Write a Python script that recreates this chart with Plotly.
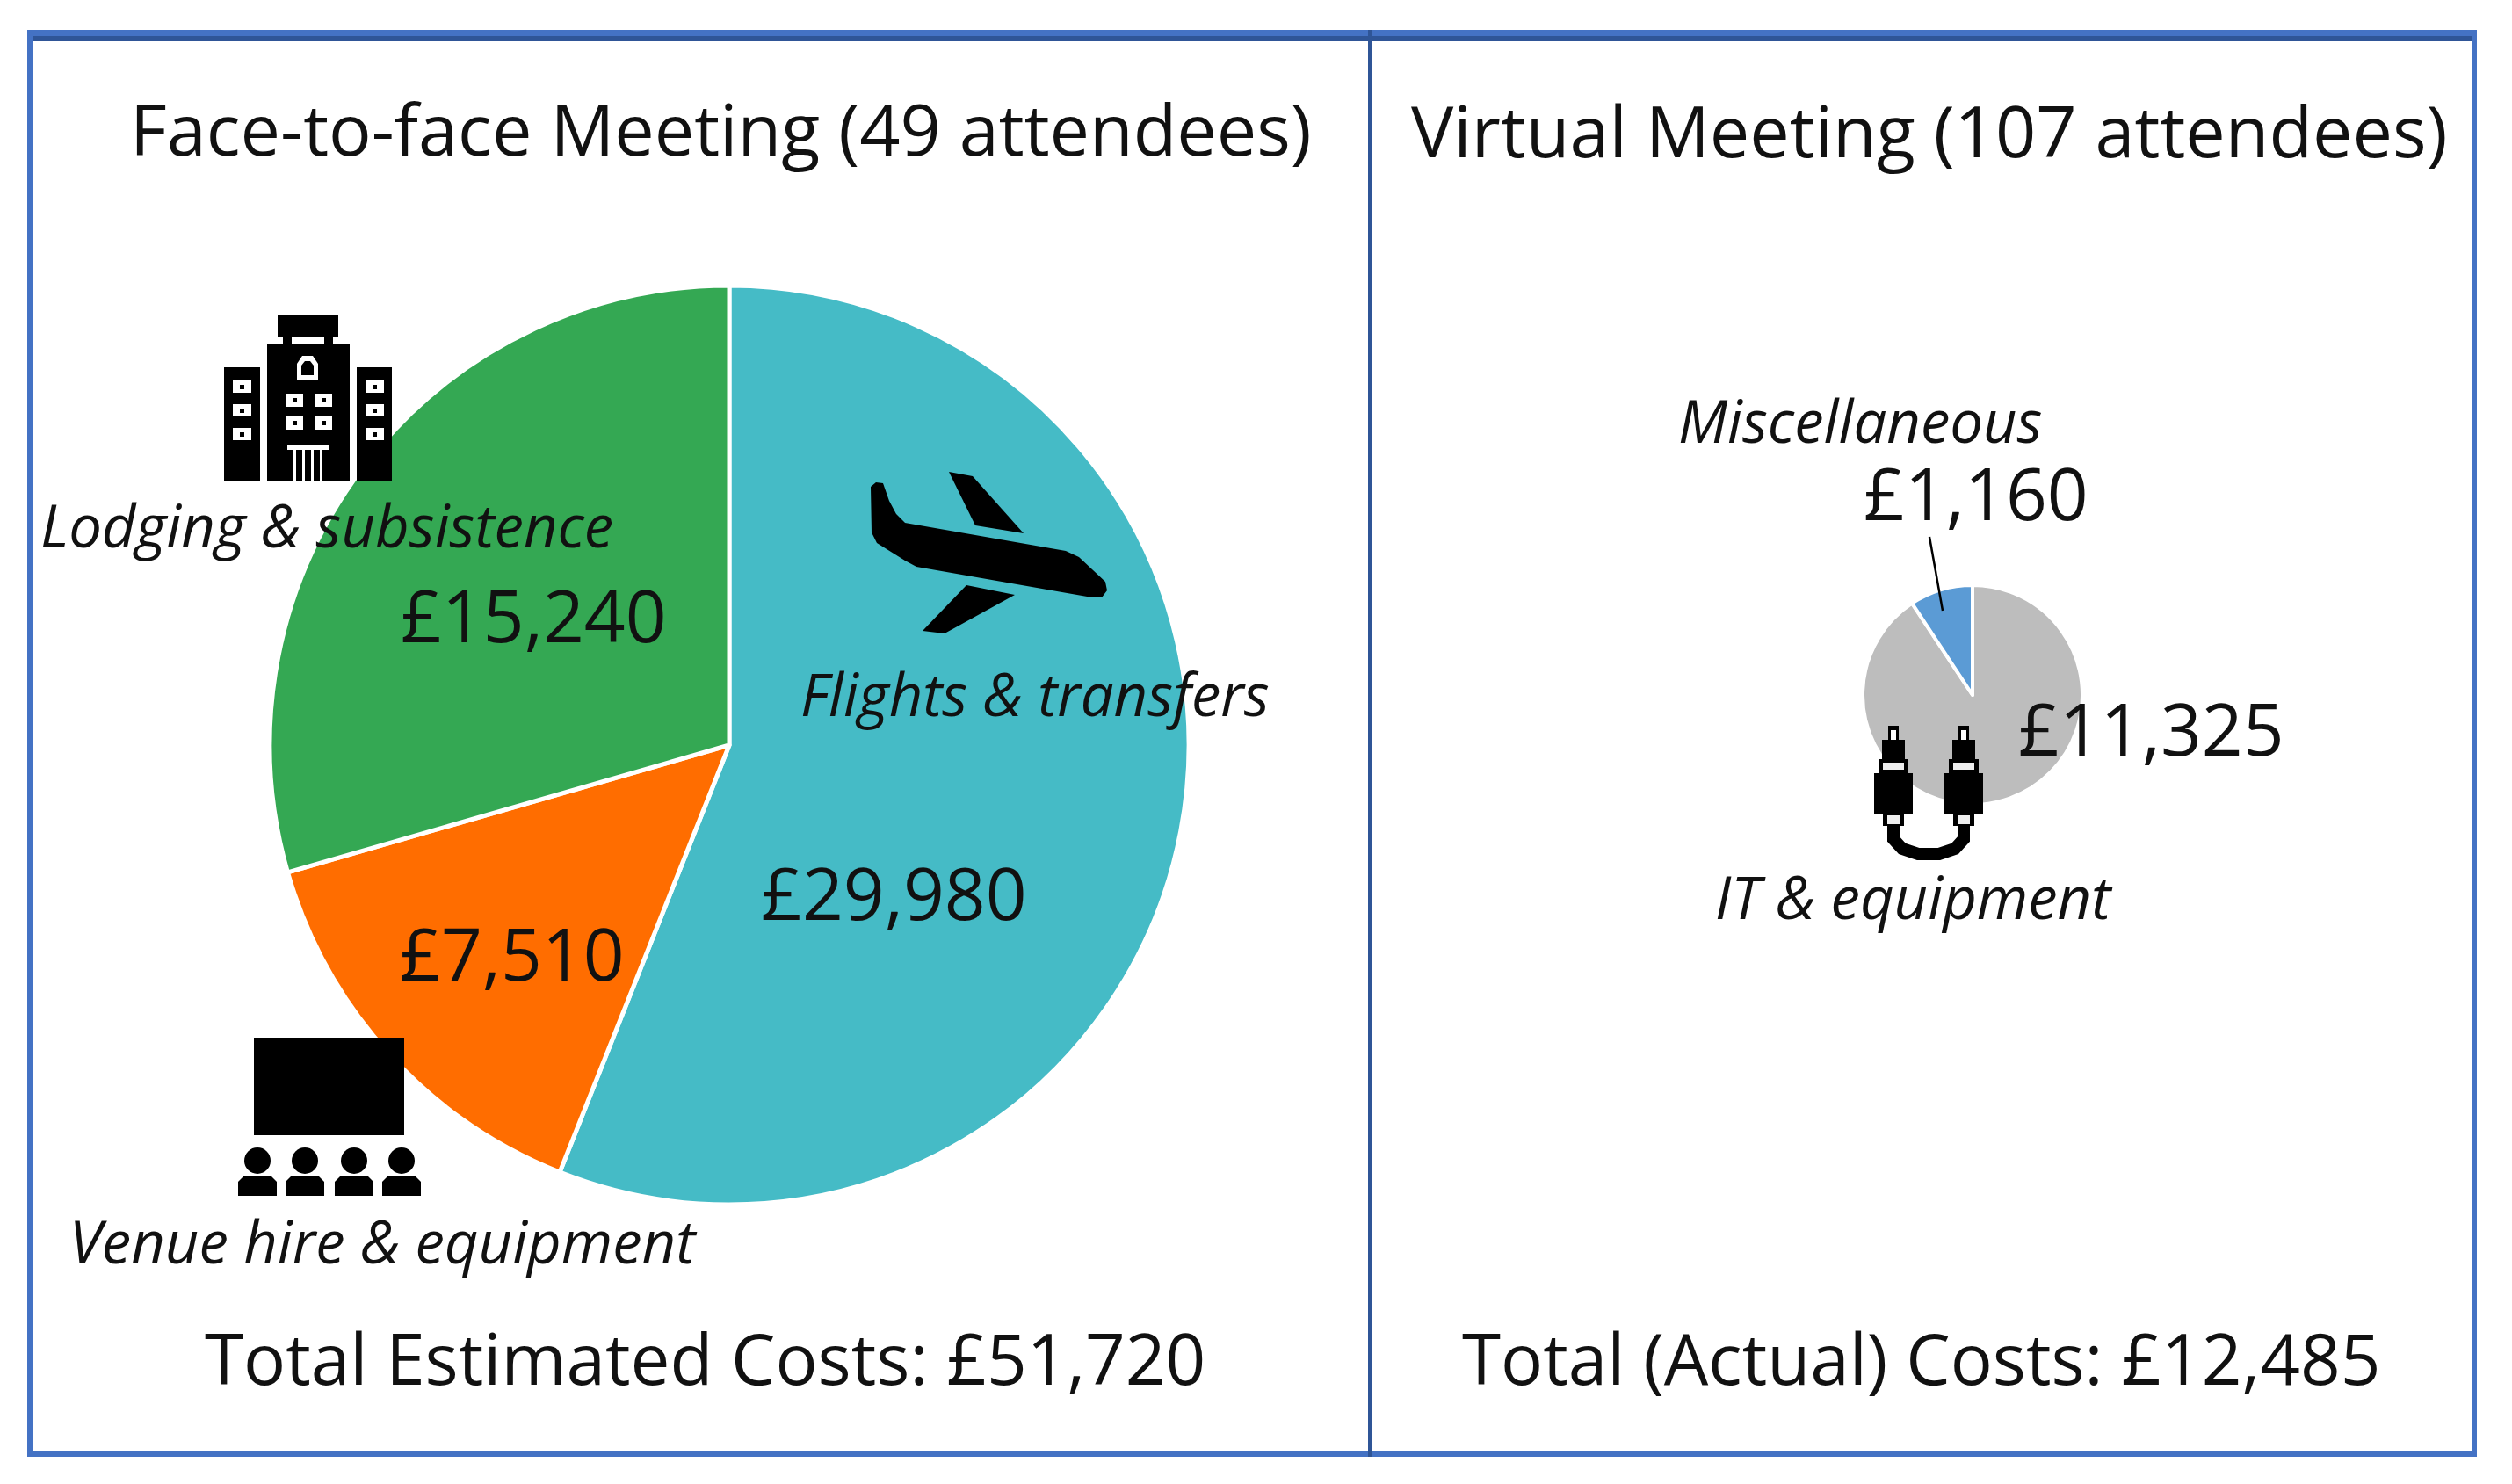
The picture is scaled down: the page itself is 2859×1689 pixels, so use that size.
import plotly.graph_objects as go

W, H = 2859, 1689

# face-to-face meeting
f2f_names = ['Flights & transfers', 'Venue hire & equipment', 'Lodging & subsistence']
# flights slice is drawn smaller than its printed label, it adds up to the printed total that way
f2f_slices = [28970, 7510, 15240]
f2f_labels = [29980, 7510, 15240]
f2f_colors = ['#45BBC6', '#FF6D00', '#34A853']
f2f_total = 51720

# virtual meeting
virt_names = ['IT & equipment', 'Miscellaneous']
virt_costs = [11325, 1160]
virt_colors = ['#BDBDBD', '#5B9BD5']
virt_total = 12485

title_left = 'Face-to-face Meeting (49 attendees)'
title_right = 'Virtual Meeting (107 attendees)'

FONT = 'Open Sans'


def px(x):
    return x / W


def py(y):
    return 1 - y / H


def rect(x0, y0, x1, y1, color='black'):
    return dict(type='rect', xref='paper', yref='paper', x0=px(x0), x1=px(x1), y0=py(y0), y1=py(y1),
                fillcolor=color, line_width=0, layer='above')


def circle(cx, cy, r, color='black'):
    return dict(type='circle', xref='paper', yref='paper', x0=px(cx - r), x1=px(cx + r), y0=py(cy - r), y1=py(cy + r),
                fillcolor=color, line_width=0, layer='above')


def poly(points, color='black'):
    path = 'M ' + ' L '.join(f'{px(x):.5f},{py(y):.5f}' for x, y in points) + ' Z'
    return dict(type='path', xref='paper', yref='paper', path=path, fillcolor=color, line_width=0, layer='above')


def stroke(points, width, color='black'):
    path = 'M ' + ' L '.join(f'{px(x):.5f},{py(y):.5f}' for x, y in points)
    return dict(type='path', xref='paper', yref='paper', path=path, line=dict(color=color, width=width), layer='above')


def pie_domain(cx, cy, r):
    return dict(x=[px(cx - r), px(cx + r)], y=[py(cy + r), py(cy - r)])


def label(text, x, y, size, italic=False):
    return dict(text=text, xref='paper', yref='paper', x=px(x), y=py(y), xanchor='center', yanchor='middle',
                showarrow=False, font=dict(family=FONT, size=size, color='#111111', style='italic' if italic else 'normal'))


def money(v):
    return f'£{v:,}'


def hotel_icon():
    s = [rect(316, 358, 385, 383), rect(322, 383, 332, 392), rect(369, 383, 379, 392),
         rect(304, 391, 398, 547), rect(255, 418, 296, 547), rect(406, 418, 446, 547)]
    for x0 in (265, 416):
        for y0 in (433, 460, 487):
            s.append(rect(x0, y0, x0 + 21, y0 + 14, 'white'))
            s.append(rect(x0 + 8, y0 + 5, x0 + 13, y0 + 10))
    for x0 in (325, 358):
        for y0 in (448, 474):
            s.append(rect(x0, y0, x0 + 20, y0 + 15, 'white'))
            s.append(rect(x0 + 8, y0 + 5, x0 + 13, y0 + 10))
    s.append(poly([(338, 432), (338, 414), (344, 405), (356, 405), (362, 414), (362, 432)], 'white'))
    s.append(poly([(343, 427), (343, 416), (347, 411), (353, 411), (357, 416), (357, 427)]))
    s.append(rect(327, 507, 375, 512, 'white'))
    for x0 in (334, 344, 354, 364):
        s.append(rect(x0, 512, x0 + 3, 547, 'white'))
    return s


def plane_icon():
    body = [(991, 554), (997, 549), (1005, 550), (1012, 570), (1020, 585), (1030, 595), (1213, 627), (1228, 634),
            (1258, 662), (1260, 672), (1254, 680), (1243, 680), (1043, 645), (1030, 638), (998, 618), (992, 606)]
    upper = [(1080, 537), (1107, 542), (1165, 607), (1110, 598)]
    lower = [(1100, 666), (1155, 677), (1075, 721), (1050, 718)]
    return [poly(body), poly(upper), poly(lower)]


def screen_icon():
    s = [rect(289, 1181, 460, 1292)]
    for cx in (293, 347, 403, 457):
        s.append(circle(cx, 1321, 15))
        s.append(poly([(cx - 22, 1361), (cx - 22, 1345), (cx - 16, 1339), (cx + 16, 1339), (cx + 22, 1345), (cx + 22, 1361)]))
    return s


def cable_icon():
    s = [stroke([(2155, 940), (2155, 955), (2165, 966), (2183, 972), (2207, 972), (2225, 966), (2235, 955), (2235, 940)], 14)]
    for cx in (2155, 2235):
        s += [rect(cx - 6, 826, cx + 6, 842), rect(cx - 3, 831, cx + 3, 842, 'white'), rect(cx - 13, 842, cx + 13, 864),
              rect(cx - 17, 864, cx + 17, 880), rect(cx - 12, 868, cx + 12, 876, '#EEEEEE'), rect(cx - 22, 880, cx + 22, 926),
              rect(cx - 12, 926, cx + 12, 940), rect(cx - 7, 928, cx + 7, 938, '#EEEEEE')]
    return s


fig = go.Figure()
fig.add_pie(labels=f2f_names, values=f2f_slices, sort=False, direction='clockwise', rotation=0,
            marker=dict(colors=f2f_colors, line=dict(color='white', width=5)),
            textinfo='none', domain=pie_domain(830, 848, 523))
fig.add_pie(labels=virt_names, values=virt_costs, sort=False, direction='clockwise', rotation=0,
            marker=dict(colors=virt_colors, line=dict(color='white', width=4)),
            textinfo='none', domain=pie_domain(2245, 791, 125))

frame = [rect(31, 34, 2819, 41, '#4472C4'), rect(38, 41, 2813, 47, '#2F5597'),
         rect(31, 34, 38, 1658, '#4472C4'), rect(2813, 34, 2819, 1658, '#4472C4'),
         rect(31, 1651, 2819, 1658, '#4472C4'), rect(1557, 34, 1562, 1658, '#2F5597')]
leader = [stroke([(2196, 611), (2211, 695)], 2.5)]

notes = [
    label(title_left, 820, 146, 81),
    label(title_right, 2196, 148, 81),
    label(f2f_names[2], 372, 597, 67, True),
    label(money(f2f_labels[2]), 607, 699, 82),
    label(f2f_names[0], 1178, 789, 67, True),
    label(money(f2f_labels[0]), 1018, 1015, 82),
    label(money(f2f_labels[1]), 583, 1084, 82),
    label(f2f_names[1], 436, 1412, 67, True),
    label(f'Total Estimated Costs: {money(f2f_total)}', 802, 1544, 80),
    label(f'Total (Actual) Costs: {money(virt_total)}', 2186, 1544, 80),
    label(virt_names[1], 2117, 478, 67, True),
    label(money(virt_costs[1]), 2249, 560, 82),
    label(money(virt_costs[0]), 2448, 828, 82),
    label(virt_names[0], 2178, 1020, 67, True),
]

fig.update_layout(width=W, height=H, margin=dict(l=0, r=0, t=0, b=0), paper_bgcolor='white', showlegend=False,
                  shapes=frame + leader + hotel_icon() + plane_icon() + screen_icon() + cable_icon(),
                  annotations=notes)

fig.write_html("out.html", config=dict(displayModeBar=False),
               post_script="document.body.style.margin='0';document.body.style.overflow='hidden';")
